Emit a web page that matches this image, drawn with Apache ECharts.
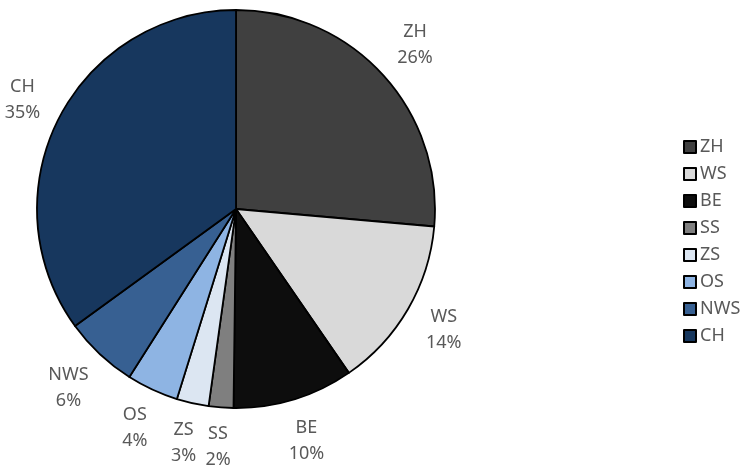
<!DOCTYPE html>
<html>
<head>
<meta charset="utf-8">
<script src="https://cdn.jsdelivr.net/npm/echarts@6/dist/echarts.min.js"></script>
<style>
  html, body { margin: 0; padding: 0; background: #fff; }
  #main { width: 747px; height: 466px; }
</style>
</head>
<body>
<div id="main"></div>
<script>
var regions = ['ZH', 'WS', 'BE', 'SS', 'ZS', 'OS', 'NWS', 'CH'];
var shares = [26.4, 14.0, 9.8, 2.0, 2.6, 4.2, 6.0, 35.0];
var colors = ['#404040', '#D9D9D9', '#0D0D0D', '#7F7F7F', '#DCE6F2', '#8EB4E3', '#376092', '#17375E'];

var pieCenter = [236, 209];
var pieRadius = 199;

// mid angle of each slice, clockwise from 12 o'clock
var total = shares.reduce(function (a, b) { return a + b; }, 0);
var midAngles = [];
var acc = 0;
for (var i = 0; i < shares.length; i++) {
    midAngles.push((acc + shares[i] / 2) / total * 2 * Math.PI);
    acc += shares[i];
}

var chart = echarts.init(document.getElementById('main'));
chart.setOption({
    animation: false,
    color: colors,
    legend: {
        orient: 'vertical',
        left: 678,
        top: 132,
        icon: 'rect',
        itemWidth: 12,
        itemHeight: 12,
        itemGap: 7,
        textStyle: {
            fontFamily: 'Noto Sans',
            fontSize: 18,
            lineHeight: 20,
            color: '#595959',
            padding: [0, 0, 0, -1]
        },
        data: regions
    },
    series: [
        {
            type: 'pie',
            center: pieCenter,
            radius: pieRadius,
            startAngle: 90,
            clockwise: true,
            percentPrecision: 0,
            avoidLabelOverlap: false,
            itemStyle: {
                borderColor: '#000',
                borderWidth: 1.8
            },
            label: {
                show: true,
                position: 'outside',
                formatter: '{b}\n{d}%',
                fontFamily: 'Noto Sans',
                fontSize: 18,
                lineHeight: 26,
                color: '#595959'
            },
            labelLine: { show: false },
            labelLayout: function (params) {
                var a = midAngles[params.dataIndex];
                var s = Math.sin(a), c = Math.cos(a);
                var w = params.labelRect.width, h = params.labelRect.height;
                var r = pieRadius + 13 + Math.abs(s) * w / 2 + Math.abs(c) * h / 2;
                return {
                    x: pieCenter[0] + r * s,
                    y: pieCenter[1] - r * c,
                    align: 'center',
                    verticalAlign: 'middle'
                };
            },
            emphasis: { disabled: true },
            data: regions.map(function (name, i) {
                return { name: name, value: shares[i] };
            })
        }
    ]
});
</script>
</body>
</html>
